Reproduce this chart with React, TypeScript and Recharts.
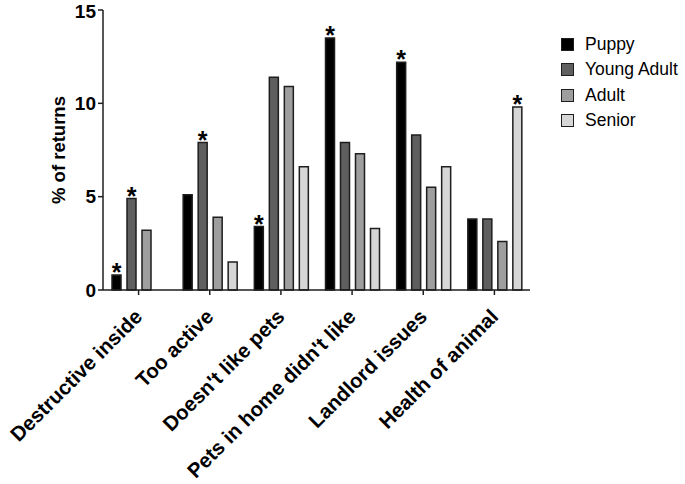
import React from 'react';
import { BarChart, Bar, XAxis, YAxis, Legend, LabelList } from 'recharts';

const categories = [
  'Destructive inside',
  'Too active',
  "Doesn't like pets",
  "Pets in home didn't like",
  'Landlord issues',
  'Health of animal',
];
const seriesNames = ['Puppy', 'Young Adult', 'Adult', 'Senior'];
const puppy = [0.8, 5.1, 3.4, 13.5, 12.2, 3.8];
const youngAdult = [4.9, 7.9, 11.4, 7.9, 8.3, 3.8];
const adult = [3.2, 3.9, 10.9, 7.3, 5.5, 2.6];
const senior = [null, 1.5, 6.6, 3.3, 6.6, 9.8];
const puppyMark = ['*', '', '*', '*', '*', ''];
const youngAdultMark = ['*', '*', '', '', '', ''];
const adultMark = ['', '', '', '', '', ''];
const seniorMark = ['', '', '', '', '', '*'];
const yTicks = [0, 5, 10, 15];

const FONT = '"Liberation Sans", Arial, sans-serif';
const INK = '#1e1e1e';

const data = categories.map((c, i) => ({
  category: c,
  puppy: puppy[i],
  youngAdult: youngAdult[i],
  adult: adult[i],
  senior: senior[i],
  puppyMark: puppyMark[i],
  youngAdultMark: youngAdultMark[i],
  adultMark: adultMark[i],
  seniorMark: seniorMark[i],
}));

const Star = (props: any) => {
  const vb = props.viewBox || props;
  const { x, y, width } = vb;
  if (!props.value) return null;
  return (
    <text
      x={x + width / 2}
      y={y + 6}
      textAnchor="middle"
      fontSize={25}
      fontWeight="bold"
      fontFamily={FONT}
      fill="#000"
    >
      *
    </text>
  );
};

const XTick = (props: any) => {
  const { x, y, payload } = props;
  const ax = x + 5;
  const ay = y + 21;
  return (
    <text
      x={ax}
      y={ay}
      textAnchor="end"
      transform={`rotate(-45, ${ax}, ${ay})`}
      fontSize={20.5}
      fontWeight="bold"
      fontFamily={FONT}
      fill="#000"
    >
      {payload.value}
    </text>
  );
};

const YLabel = (props: any) => {
  const vb = props.viewBox || {};
  const cx = vb.x + 65;
  const cy = vb.y + vb.height / 2;
  return (
    <text
      x={cx}
      y={cy}
      textAnchor="middle"
      transform={`rotate(-90, ${cx}, ${cy})`}
      fontSize={18.5}
      fontWeight="bold"
      fontFamily={FONT}
      fill="#000"
    >
      % of returns
    </text>
  );
};

const LegendContent = (props: any) => {
  const items = [...(props.payload || [])].sort(
    (a: any, b: any) => seriesNames.indexOf(a.value) - seriesNames.indexOf(b.value)
  );
  return (
    <div style={{ fontFamily: FONT, fontSize: 17.5, color: '#000' }}>
      {items.map((it: any) => (
        <div
          key={it.value}
          style={{ display: 'flex', alignItems: 'center', height: 25.3, whiteSpace: 'nowrap' }}
        >
          <div
            style={{
              width: 13,
              height: 13,
              boxSizing: 'border-box',
              border: `1.5px solid ${INK}`,
              background: it.color,
              marginRight: 11,
            }}
          />
          <span>{it.value}</span>
        </div>
      ))}
    </div>
  );
};

export default function App() {
  return (
    <div style={{ position: 'absolute', left: 0, top: 0, width: 685, height: 484, background: '#fff' }}>
      <BarChart
        width={685}
        height={484}
        data={data}
        margin={{ top: 10, right: 155, bottom: 0, left: 0 }}
        barSize={9}
        barGap={6}
      >
        <XAxis
          dataKey="category"
          height={194}
          interval={0}
          tick={<XTick />}
          tickSize={5}
          tickMargin={2}
          axisLine={{ stroke: INK, strokeWidth: 1.5 }}
          tickLine={{ stroke: INK, strokeWidth: 1.5 }}
        />
        <YAxis
          width={103}
          domain={[0, 15]}
          ticks={yTicks}
          tickSize={5}
          tickMargin={2}
          tick={{ fontSize: 19, fontWeight: 'bold', fill: '#000', fontFamily: FONT }}
          axisLine={{ stroke: INK, strokeWidth: 1.5 }}
          tickLine={{ stroke: INK, strokeWidth: 1.5 }}
          label={{ content: <YLabel /> }}
        />
        <Legend
          layout="horizontal"
          verticalAlign="middle"
          align="center"
          itemSorter={(item: any) => seriesNames.indexOf(item.value)}
          content={<LegendContent />}
          wrapperStyle={{ left: 561, top: 32, width: 124, height: 102 }}
        />
        <Bar dataKey="puppy" name={seriesNames[0]} fill="#000000" stroke={INK} strokeWidth={1.5} isAnimationActive={false}>
          <LabelList dataKey="puppyMark" content={<Star />} />
        </Bar>
        <Bar dataKey="youngAdult" name={seriesNames[1]} fill="#5f5f5f" stroke={INK} strokeWidth={1.5} isAnimationActive={false}>
          <LabelList dataKey="youngAdultMark" content={<Star />} />
        </Bar>
        <Bar dataKey="adult" name={seriesNames[2]} fill="#9e9e9e" stroke={INK} strokeWidth={1.5} isAnimationActive={false}>
          <LabelList dataKey="adultMark" content={<Star />} />
        </Bar>
        <Bar dataKey="senior" name={seriesNames[3]} fill="#d6d6d6" stroke={INK} strokeWidth={1.5} isAnimationActive={false}>
          <LabelList dataKey="seniorMark" content={<Star />} />
        </Bar>
      </BarChart>
    </div>
  );
}
